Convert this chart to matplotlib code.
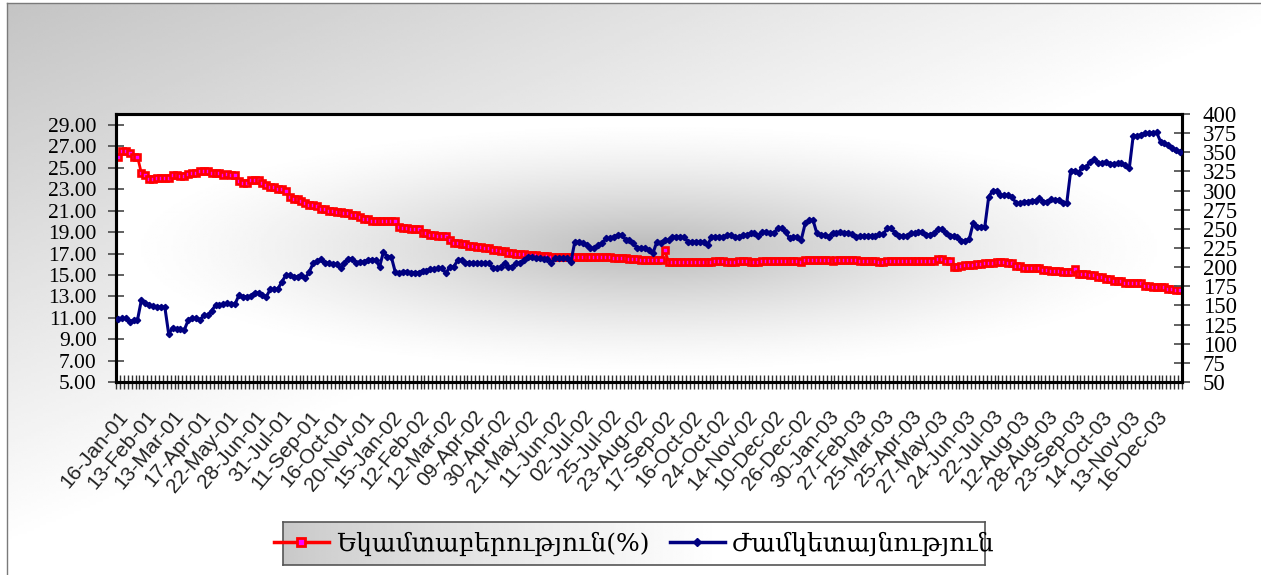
import numpy as np
import matplotlib
matplotlib.use("Agg")
import matplotlib.pyplot as plt
from matplotlib.lines import Line2D
from matplotlib.ticker import FormatStrFormatter

# category labels shown under every 7th auction
date_labels = [
    "16-Jan-01", "13-Feb-01", "13-Mar-01", "17-Apr-01", "22-May-01", "28-Jun-01",
    "31-Jul-01", "11-Sep-01", "16-Oct-01", "20-Nov-01", "15-Jan-02", "12-Feb-02",
    "12-Mar-02", "09-Apr-02", "30-Apr-02", "21-May-02", "11-Jun-02", "02-Jul-02",
    "25-Jul-02", "23-Aug-02", "17-Sep-02", "16-Oct-02", "24-Oct-02", "14-Nov-02",
    "10-Dec-02", "26-Dec-02", "30-Jan-03", "27-Feb-03", "25-Mar-03", "25-Apr-03",
    "27-May-03", "24-Jun-03", "22-Jul-03", "12-Aug-03", "28-Aug-03", "23-Sep-03",
    "14-Oct-03", "13-Nov-03", "16-Dec-03",
]

# yield, % (left axis)
yield_pct = [
    25.98, 26.6, 26.6, 26.35, 26.05, 26.05, 24.5, 24.35, 23.95, 23.95,
    24.05, 24.05, 24.05, 24.05, 24.3, 24.3, 24.2, 24.2, 24.4, 24.55,
    24.55, 24.7, 24.7, 24.7, 24.55, 24.55, 24.55, 24.3, 24.45, 24.35,
    24.35, 23.8, 23.6, 23.6, 23.85, 23.85, 23.85, 23.6, 23.4, 23.2,
    23.2, 23.0, 23.0, 22.8, 22.3, 22.1, 22.1, 21.95, 21.75, 21.55,
    21.55, 21.4, 21.15, 21.15, 21.0, 21.0, 20.85, 20.85, 20.8, 20.8,
    20.6, 20.6, 20.4, 20.2, 20.2, 20.05, 20.0, 20.0, 20.0, 20.0,
    20.0, 20.0, 19.45, 19.4, 19.4, 19.25, 19.25, 19.25, 18.95, 18.95,
    18.75, 18.75, 18.6, 18.6, 18.6, 18.3, 18.0, 18.0, 17.85, 17.85,
    17.7, 17.7, 17.6, 17.6, 17.5, 17.5, 17.35, 17.35, 17.2, 17.2,
    17.05, 17.05, 16.95, 16.95, 16.95, 16.85, 16.85, 16.85, 16.8, 16.8,
    16.8, 16.7, 16.7, 16.65, 16.65, 16.65, 16.7, 16.7, 16.7, 16.7,
    16.7, 16.7, 16.7, 16.7, 16.7, 16.7, 16.7, 16.55, 16.55, 16.55,
    16.55, 16.45, 16.45, 16.45, 16.35, 16.35, 16.35, 16.35, 16.35, 16.35,
    17.3, 16.25, 16.25, 16.25, 16.2, 16.2, 16.2, 16.2, 16.25, 16.25,
    16.25, 16.25, 16.25, 16.3, 16.3, 16.3, 16.25, 16.25, 16.25, 16.3,
    16.3, 16.3, 16.2, 16.2, 16.2, 16.3, 16.3, 16.3, 16.3, 16.3,
    16.3, 16.3, 16.3, 16.3, 16.3, 16.25, 16.4, 16.4, 16.4, 16.4,
    16.35, 16.35, 16.35, 16.3, 16.4, 16.4, 16.4, 16.35, 16.35, 16.35,
    16.3, 16.3, 16.3, 16.3, 16.3, 16.2, 16.2, 16.3, 16.3, 16.3,
    16.3, 16.3, 16.3, 16.3, 16.3, 16.3, 16.3, 16.3, 16.3, 16.3,
    16.5, 16.5, 16.3, 16.3, 15.75, 15.75, 15.8, 15.95, 15.95, 15.95,
    16.05, 16.05, 16.1, 16.1, 16.1, 16.2, 16.2, 16.2, 16.1, 16.1,
    15.8, 15.8, 15.65, 15.65, 15.65, 15.65, 15.65, 15.5, 15.5, 15.4,
    15.4, 15.4, 15.3, 15.3, 15.3, 15.6, 15.1, 15.1, 15.1, 15.0,
    15.0, 14.8, 14.8, 14.6, 14.6, 14.45, 14.45, 14.45, 14.25, 14.25,
    14.2, 14.2, 14.2, 13.95, 13.95, 13.85, 13.85, 13.85, 13.85, 13.7,
    13.7, 13.6, 13.6,
]

# maturity, days (right axis)
maturity = [
    132, 133, 133, 129, 130.5, 131, 157, 153, 151, 149,
    148, 148, 148, 112.5, 121, 119, 119, 118, 131, 133,
    133, 131, 137, 137, 143, 150.5, 150.5, 152, 153, 152,
    152, 163.5, 161.5, 161.5, 162.5, 166.5, 166.5, 163.5, 161.5, 171,
    171, 172, 181, 189.5, 189.5, 187.5, 187.5, 189.5, 185.5, 194,
    205, 208, 210, 205.5, 205.5, 204, 204, 198.5, 206, 211,
    211, 206, 207, 207, 209.5, 209.5, 209.5, 200.5, 220, 213.5,
    213.5, 194, 192, 194, 194, 193, 193, 193, 195.5, 195.5,
    197, 197, 198.5, 198.5, 192, 200.5, 200.5, 209, 209, 206,
    206, 205, 205, 205, 205, 205, 198.5, 198.5, 200.5, 205.8,
    200.5, 200.5, 205.8, 205.8, 209.3, 213.5, 213.5, 211.5, 211.5, 210,
    210, 206, 211.5, 211.5, 211.5, 211.5, 207, 233, 233, 232,
    229, 225, 225, 229, 231, 237.5, 237.5, 240, 242, 242,
    236, 236, 231, 225, 225, 225, 222, 218, 233, 232,
    235.5, 235.5, 240, 240, 239, 239, 233, 233, 233, 233,
    233, 229, 239, 240, 239, 239, 242, 242, 239, 239,
    242, 242, 244, 244, 240.5, 246, 246, 245, 245, 250.5,
    250.5, 246, 237.5, 239.5, 239.5, 236, 257, 261.5, 261.5, 244,
    242, 242, 240, 245, 245, 246, 245, 245, 243, 239,
    240.7, 240.7, 240.7, 240.7, 240.7, 243, 243, 250.5, 250.5, 245,
    240.7, 240.7, 240.7, 244, 244, 246, 246, 242, 242, 245,
    249.4, 249.4, 245, 240.7, 240.7, 239, 234.5, 234.5, 236.3, 257,
    252.8, 252.8, 252.8, 292, 299.5, 299.5, 294, 294, 294, 292,
    283.3, 283.3, 285.5, 285.5, 286.8, 286.8, 289.9, 285.5, 285.5, 288.6,
    288, 288, 283.3, 284.2, 326, 326, 323.4, 331, 331, 337.7,
    340.8, 335.6, 335.6, 337.7, 334.7, 334.7, 335.6, 335.6, 333, 329,
    371.3, 371.3, 373, 374.7, 375, 375.6, 376, 364, 362, 359.5,
    355, 352.5, 350.8,
]

series_names = ["Եկամտաբերություն(%)", "Ժամկետայնություն"]

W, H = 1261, 575
fig = plt.figure(figsize=(W / 100, H / 100), dpi=100)
fig.patch.set_facecolor("white")

# chart area: diagonal grey -> white gradient with thin frame
bg = fig.add_axes([0, 0, 1, 1], zorder=-10)
gx, gy = np.meshgrid(np.linspace(0, 1, 400), np.linspace(0, 1, 200))
shade = 196 + 59 * np.clip(0.95 * gx + 1.05 * gy, 0, 1)
bg.imshow(shade, cmap="gray", vmin=0, vmax=255, aspect="auto",
          extent=[7 / W, 1, 0, 1 - 3 / H], origin="upper", interpolation="bilinear")
bg.plot([7 / W, 7 / W], [0, 1 - 3 / H], color="#7a7a7a", lw=1)
bg.plot([7 / W, 1], [1 - 3 / H, 1 - 3 / H], color="#7a7a7a", lw=1)
bg.set_xlim(0, 1)
bg.set_ylim(0, 1)
bg.set_axis_off()

# plot area
ax = fig.add_axes([116 / W, 1 - 382 / H, (1182 - 116) / W, (382 - 114) / H])
n = len(yield_pct)
x = np.arange(n)
xlim = (-0.5, n - 0.5)
ylim = (5, 30.03)

px, py = np.meshgrid(np.linspace(-1, 1, 400), np.linspace(-1, 1, 200))
d = np.sqrt(px ** 2 + (py * 1.05) ** 2)
center = 255 - 70 * np.clip(1 - d, 0, 1) ** 1.4
ax.imshow(center, cmap="gray", vmin=0, vmax=255, aspect="auto",
          extent=[xlim[0], xlim[1], ylim[0], ylim[1]], interpolation="bilinear", zorder=0)

ax.plot(x, yield_pct, color="#ff0000", lw=2, marker="s", ms=4.8,
        mfc="#ff00ff", mec="#ff0000", mew=1.9, zorder=3)
ax.set_xlim(*xlim)
ax.set_ylim(*ylim)

ax2 = ax.twinx()
ax2.plot(x, maturity, color="#000080", lw=2.2, marker="D", ms=3.2,
         mfc="#000080", mec="#000080", mew=1, zorder=3)
ax2.set_ylim(50, 400)

# axes styling
for a in (ax, ax2):
    for s in a.spines.values():
        s.set_linewidth(2.2)
        s.set_color("black")

ax.set_yticks(np.arange(5, 30, 2))
ax.yaxis.set_major_formatter(FormatStrFormatter("%.2f"))
ax.tick_params(axis="y", direction="inout", length=12, width=1.3, color="#555555",
               pad=8, labelsize=15.5)
for t in ax.get_yticklabels():
    t.set_fontfamily("Liberation Serif")

ax2.set_yticks(np.arange(50, 401, 25))
ax2.tick_params(axis="y", direction="inout", length=12, width=1.3, color="#555555",
                pad=9, labelsize=16.5)
for t in ax2.get_yticklabels():
    t.set_fontfamily("Liberation Serif")

ax.set_xticks(np.arange(0, n, 7), date_labels)
ax.set_xticks(np.arange(-0.5, n, 1), minor=True)
ax.tick_params(axis="x", which="major", length=0, pad=18)
ax.tick_params(axis="x", which="minor", direction="inout", length=10, width=1, color="#333333")
for t in ax.get_xticklabels():
    t.set_rotation(50)
    t.set_ha("right")
    t.set_rotation_mode("anchor")
    t.set_fontfamily("Liberation Sans")
    t.set_fontsize(15)
    t.set_color("#222222")

# legend box with its own left-to-right gradient
lx0, lx1, ly0, ly1 = 283, 985, 522, 565
lax = fig.add_axes([lx0 / W, 1 - ly1 / H, (lx1 - lx0) / W, (ly1 - ly0) / H])
lg = np.tile(np.linspace(0, 1, 300), (20, 1))
lax.imshow(200 + 55 * np.clip(lg * 1.6, 0, 1) ** 0.8, cmap="gray", vmin=0, vmax=255,
           aspect="auto", extent=[0, 1, 0, 1], interpolation="bilinear")
lax.set_xticks([])
lax.set_yticks([])
for s in lax.spines.values():
    s.set_color("#555555")
    s.set_linewidth(1.2)

handles = [
    Line2D([], [], color="#ff0000", lw=2.5, marker="s", ms=5.5, mfc="#ff00ff", mec="#ff0000", mew=2),
    Line2D([], [], color="#000080", lw=2.5, marker="D", ms=4, mfc="#000080", mec="#000080"),
]
lax.legend(handles, series_names, loc="center", frameon=False, ncol=2,
           handlelength=2.2, handletextpad=0.3, columnspacing=0.8,
           prop={"family": ["DejaVu Serif", "DejaVu Sans"], "size": 18})

fig.savefig("out.png", dpi=100)
